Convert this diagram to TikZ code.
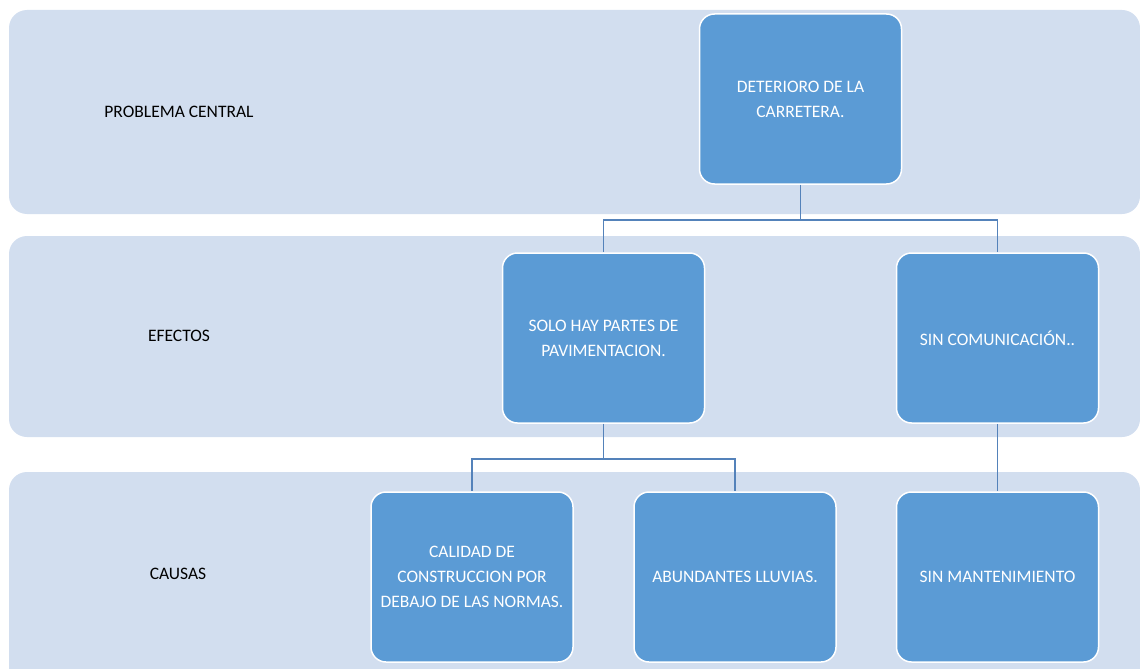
\documentclass[tikz,border=0pt]{standalone}
\usepackage{fontspec}
\setmainfont{Carlito}
\usetikzlibrary{positioning}
\definecolor{bandfill}{RGB}{210,222,239}
\definecolor{boxfill}{RGB}{91,155,213}
\definecolor{linkcol}{RGB}{84,130,186}

\begin{document}
\begin{tikzpicture}[x=1pt,y=-1pt,
    lbl/.style={font=\fontsize{17.5}{24.5}\selectfont,text=black},
    card/.style={draw=white,line width=1.5pt,fill=boxfill,rounded corners=15pt,
      minimum width=202pt,minimum height=170pt,inner sep=0pt,align=center,
      text=white,font=\fontsize{17.5}{25}\selectfont},
    link/.style={draw=linkcol,line width=1.6pt}]
 \useasboundingbox (0,0) rectangle (1140,669);
 \clip (0,0) rectangle (1140,669);
 % bands
 \fill[bandfill,rounded corners=18pt] (9,10) rectangle (1140,214);
 \fill[bandfill,rounded corners=18pt] (9,236) rectangle (1140,437);
 \fill[bandfill,rounded corners=18pt] (9,472) rectangle (1140,700);
 \node[lbl] (lblprob) at (179,112) {PROBLEMA CENTRAL};
 \node[lbl] (lblefe)  at (179,336) {EFECTOS};
 \node[lbl] (lblcau)  at (178,574) {CAUSAS};
 % boxes
 \node[card] (prob) at (800.5,99)  {DETERIORO DE LA\\CARRETERA.};
 \node[card] (efe1) at (603.5,338) {SOLO HAY PARTES DE\\PAVIMENTACION.};
 \node[card] (efe2) at (997.5,338) {SIN COMUNICACIÓN..};
 \node[card] (cau1) at (472,577)   {CALIDAD DE\\CONSTRUCCION POR\\DEBAJO DE LAS NORMAS.};
 \node[card] (cau2) at (735,577)   {ABUNDANTES LLUVIAS.};
 \node[card] (cau3) at (997.5,577) {SIN MANTENIMIENTO};
 % connectors
 \path[link] (prob.south) -- ++(0,35) -| (efe1.north);
 \path[link] (prob.south) -- ++(0,35) -| (efe2.north);
 \path[link] (efe1.south) -- ++(0,35) -| (cau1.north);
 \path[link] (efe1.south) -- ++(0,35) -| (cau2.north);
 \path[link] (efe2.south) -- (cau3.north);
\end{tikzpicture}
\end{document}
